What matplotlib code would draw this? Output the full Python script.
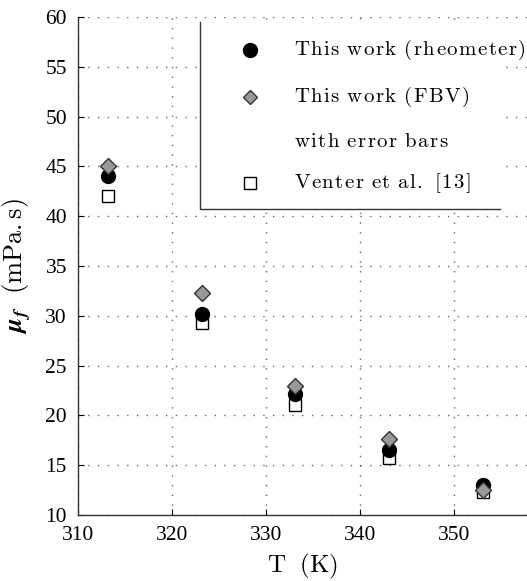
import numpy as np
import matplotlib
matplotlib.use("Agg")
import matplotlib.pyplot as plt

plt.rcParams['mathtext.fontset'] = 'cm'
plt.rcParams['font.family'] = ['Liberation Serif', 'DejaVu Serif']

# temperaturas (K) y viscosidades (mPa.s)
temperatura = [313.15, 323.15, 333.15, 343.15, 353.15]
mu_reometro = [44.0, 30.2, 22.2, 16.5, 13.0]
mu_fbv = [45.0, 32.3, 23.0, 17.6, 12.5]
mu_venter = [42.0, 29.3, 21.0, 15.7, 12.3]

x_ticks = [310, 320, 330, 340, 350]
y_ticks = [10, 15, 20, 25, 30, 35, 40, 45, 50, 55, 60]

etiquetas = ['This work (rheometer)', 'This work (FBV)',
             'with error bars', 'Venter et al. [13]']


def espaciado(texto, sep=0.08):
    """Texto en romana CM con un poco de aire entre letras."""
    palabras = []
    for palabra in texto.split(' '):
        letras = ['{.}' if c == '.' else c for c in palabra]
        palabras.append(('\\hspace{%g}' % sep).join(letras))
    return r'$\mathrm{' + r'\ \hspace{0.1}'.join(palabras) + '}$'


fig = plt.figure(figsize=(5.27, 5.81), dpi=100)
ax = fig.add_axes([0.148, 0.1136, 0.852, 0.857])

ax.plot(temperatura, mu_venter, 's', ms=8.5, mfc='white', mec='black', mew=1.0, zorder=3)
ax.plot(temperatura, mu_reometro, 'o', ms=10, mfc='black', mec='black', zorder=4)
ax.plot(temperatura, mu_fbv, 'D', ms=8, mfc='#999999', mec='#333333', mew=1.0, zorder=5)

ax.set_xlim(310, 357.8)
ax.set_ylim(10, 60)
ax.set_xticks(x_ticks)
ax.set_yticks(y_ticks)
ax.tick_params(direction='in', length=4, labelsize=15.5, width=0.8)
ax.tick_params(axis='x', pad=8)
ax.tick_params(axis='y', pad=8)
ax.grid(True, linestyle=(0, (1, 6)), color='#666666', linewidth=1.0)

for lado in ['top', 'right']:
    ax.spines[lado].set_visible(False)
for lado in ['left', 'bottom']:
    ax.spines[lado].set_linewidth(1.0)
    ax.spines[lado].set_color('#333333')

ax.set_xlabel(r'$\mathrm{T\ \ (K)}$', fontsize=18)
ax.xaxis.set_label_coords(0.5, -0.075)
ax.set_ylabel(r'$\boldsymbol{\mu}_{\boldsymbol{f}}\ \ \mathrm{(mPa{.}s)}$', fontsize=19)
ax.yaxis.set_label_coords(-0.1, 0.5)

# leyenda dibujada a mano: marco solo a la izquierda y abajo
fondo = plt.Rectangle((0.272, 0.614), 0.67, 0.38, transform=ax.transAxes,
                      facecolor='white', edgecolor='none', zorder=6)
ax.add_patch(fondo)
ax.plot([0.272, 0.272, 0.94], [0.99, 0.614, 0.614], transform=ax.transAxes,
        color='#333333', lw=1.0, clip_on=False, zorder=7)

filas_y = [0.934, 0.839, 0.749, 0.667]
marcadores = [dict(marker='o', ms=10, mfc='black', mec='black'),
              dict(marker='D', ms=7.5, mfc='#999999', mec='#333333', mew=1.0),
              None,
              dict(marker='s', ms=8, mfc='white', mec='black', mew=1.0)]
for y, etiqueta, estilo in zip(filas_y, etiquetas, marcadores):
    if estilo is not None:
        ax.plot([0.383], [y], ls='', transform=ax.transAxes, zorder=8, **estilo)
    ax.text(0.481, y, espaciado(etiqueta), transform=ax.transAxes, fontsize=15,
            va='center', ha='left', zorder=8)

fig.savefig('out.png', dpi=100, facecolor='white')
